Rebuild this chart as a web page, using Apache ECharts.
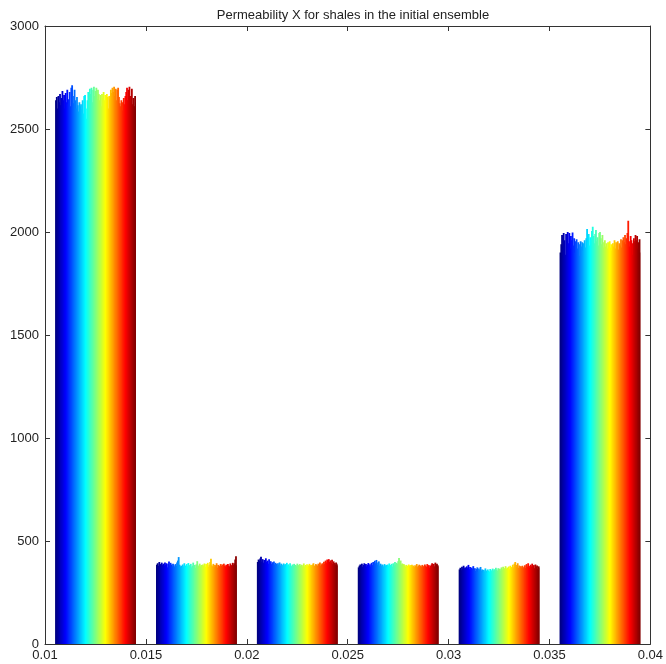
<!DOCTYPE html>
<html>
<head>
<meta charset="utf-8">
<script src="https://cdn.jsdelivr.net/npm/echarts@6/dist/echarts.min.js"></script>
<style>
  html, body { margin: 0; padding: 0; background: #ffffff; }
  #chart { width: 666px; height: 664px; }
</style>
</head>
<body>
<div id="chart"></div>
<script>
// Histogram of shale permeability X, one bar per ensemble member in every bin.
const chartTitle = 'Permeability X for shales in the initial ensemble';

// Bin centres (permeability) and the x tick values shown under the axis
const binCenters = [0.0125, 0.0175, 0.0225, 0.0275, 0.0325, 0.0375];
const xTicks = [0.01, 0.015, 0.02, 0.025, 0.03, 0.035, 0.04];
const yTicks = [0, 500, 1000, 1500, 2000, 2500, 3000];

// Counts per ensemble member (100 members) for each bin
const bin1Counts = [
  2640, 2655, 2600, 2660, 2630, 2670, 2615, 2650, 2685, 2640,
  2665, 2600, 2675, 2630, 2690, 2620, 2645, 2680, 2610, 2700,
  2712, 2660, 2625, 2690, 2640, 2600, 2655, 2615, 2585, 2630,
  2610, 2620, 2595, 2640, 2575, 2660, 2665, 2600, 2550, 2640,
  2680, 2655, 2695, 2670, 2700, 2630, 2690, 2705, 2660, 2685,
  2700, 2645, 2690, 2670, 2640, 2665, 2610, 2670, 2650, 2680,
  2640, 2665, 2625, 2670, 2655, 2600, 2660, 2645, 2690, 2675,
  2700, 2680, 2705, 2660, 2695, 2640, 2690, 2700, 2655, 2625,
  2610, 2640, 2630, 2590, 2650, 2620, 2660, 2680, 2700, 2640,
  2690, 2705, 2660, 2640, 2695, 2620, 2650, 2610, 2660, 2630
];
const bin2Counts = [
  385, 392, 380, 398, 388, 375, 395, 383, 390, 378,
  396, 384, 392, 372, 388, 400, 381, 394, 386, 377,
  390, 382, 375, 388, 379, 396, 405, 422, 385, 374,
  380, 371, 386, 377, 392, 381, 374, 388, 378, 393,
  383, 376, 389, 372, 380, 395, 378, 384, 370, 387,
  402, 381, 375, 390, 377, 384, 372, 386, 379, 391,
  375, 388, 380, 394, 376, 385, 398, 414, 382, 377,
  389, 374, 383, 378, 392, 371, 384, 380, 376, 388,
  379, 386, 373, 390, 381, 377, 385, 372, 388, 380,
  376, 391, 383, 379, 394, 385, 392, 410, 426, 382
];
const bin3Counts = [
  398, 410, 405, 415, 424, 400, 412, 395, 408, 402,
  416, 398, 405, 390, 411, 396, 402, 388, 397, 391,
  400, 386, 394, 389, 380, 392, 384, 396, 381, 390,
  385, 378, 391, 383, 388, 376, 394, 382, 387, 379,
  392, 380, 377, 386, 381, 389, 375, 384, 378, 390,
  383, 376, 388, 379, 385, 374, 382, 391, 377, 384,
  380, 387, 373, 382, 389, 378, 384, 376, 386, 392,
  381, 377, 388, 384, 379, 390, 383, 396, 380, 387,
  392, 384, 399, 388, 405, 396, 410, 402, 412, 398,
  406, 395, 409, 388, 401, 393, 386, 396, 382, 390
];
const bin4Counts = [
  372, 380, 386, 378, 390, 375, 384, 392, 381, 388,
  377, 385, 393, 380, 387, 376, 394, 383, 398, 389,
  404, 392, 408, 385, 396, 401, 381, 390, 378, 386,
  382, 375, 388, 379, 384, 373, 386, 380, 391, 377,
  383, 389, 376, 392, 381, 398, 385, 394, 388, 402,
  418, 396, 405, 386, 391, 379, 388, 382, 376, 384,
  380, 374, 386, 378, 383, 371, 385, 377, 381, 374,
  382, 376, 388, 373, 379, 385, 370, 381, 375, 384,
  378, 372, 386, 380, 374, 388, 376, 383, 371, 379,
  385, 392, 380, 389, 377, 395, 384, 390, 382, 376
];
const bin5Counts = [
  362, 370, 358, 375, 366, 380, 368, 372, 360, 377,
  369, 384, 363, 374, 358, 371, 365, 378, 361, 368,
  355, 364, 372, 351, 366, 359, 374, 356, 362, 348,
  360, 353, 367, 357, 345, 362, 355, 350, 364, 358,
  352, 366, 357, 363, 349, 370, 361, 355, 368, 359,
  365, 357, 372, 362, 375, 360, 368, 378, 364, 371,
  367, 376, 363, 380, 369, 374, 385, 372, 390, 398,
  384, 375, 392, 370, 381, 366, 378, 372, 380, 368,
  374, 382, 369, 388, 376, 392, 379, 371, 385, 377,
  390, 372, 383, 368, 386, 375, 381, 364, 377, 370
];
const bin6Counts = [
  1900, 1940, 1985, 1930, 1995, 1960, 1890, 1990, 1975, 2000,
  1945, 1995, 1920, 1980, 1960, 1998, 1935, 1970, 1900, 1955,
  1965, 1920, 1950, 1940, 1885, 1955, 1930, 1950, 1910, 1945,
  1960, 1925, 1970, 2015, 1950, 1990, 1935, 1975, 1960, 2005,
  2025, 1980, 1945, 1990, 2010, 1955, 1975, 1935, 1995, 2000,
  1970, 1940, 1985, 1925, 1950, 1960, 1930, 1945, 1920, 1950,
  1935, 1955, 1925, 1940, 1910, 1945, 1930, 1960, 1920, 1950,
  1940, 1955, 1915, 1945, 1935, 1965, 1925, 1960, 1975, 1950,
  1985, 1940, 1970, 1995, 2055, 1955, 1930, 1980, 1960, 1945,
  1890, 1970, 1955, 1985, 1960, 1980, 1920, 1950, 1965, 1900
];

const binCounts = [bin1Counts, bin2Counts, bin3Counts, bin4Counts, bin5Counts, bin6Counts];
const memberCount = bin1Counts.length;
const binWidth = 0.005;
const groupWidth = binWidth * 0.8;

// Jet colour map, dark blue -> cyan -> yellow -> dark red
function jet(t) {
  const c = v => Math.round(255 * Math.max(0, Math.min(1, v)));
  const r = c(1.5 - Math.abs(4 * t - 3));
  const g = c(1.5 - Math.abs(4 * t - 2));
  const b = c(1.5 - Math.abs(4 * t - 1));
  return 'rgb(' + r + ',' + g + ',' + b + ')';
}

// [bin centre, count, member index]
const barData = [];
binCounts.forEach((counts, b) => {
  counts.forEach((v, i) => barData.push([binCenters[b], v, i]));
});

const axisColor = '#333';
const labelFont = { color: '#222', fontSize: 13, fontFamily: 'Liberation Sans, Arial, sans-serif' };

const chart = echarts.init(document.getElementById('chart'), null, { renderer: 'canvas' });
chart.setOption({
  animation: false,
  backgroundColor: '#ffffff',
  title: {
    text: chartTitle,
    left: 348,
    textAlign: 'center',
    top: 4,
    textStyle: { color: '#222', fontSize: 13, fontWeight: 'normal', fontFamily: 'Liberation Sans, Arial, sans-serif' }
  },
  grid: { left: 45, right: 14, top: 26, bottom: 20, containLabel: false },
  xAxis: [
    {
      type: 'value', min: xTicks[0], max: xTicks[xTicks.length - 1], interval: binWidth,
      position: 'bottom',
      axisLine: { show: true, onZero: false, lineStyle: { color: axisColor, width: 1 } },
      axisTick: { show: true, inside: true, length: 5, lineStyle: { color: axisColor } },
      axisLabel: Object.assign({ margin: 5, formatter: v => String(+v.toFixed(3)) }, labelFont),
      splitLine: { show: false }
    },
    {
      type: 'value', min: xTicks[0], max: xTicks[xTicks.length - 1], interval: binWidth,
      position: 'top',
      axisLine: { show: true, onZero: false, lineStyle: { color: axisColor, width: 1 } },
      axisTick: { show: true, inside: true, length: 5, lineStyle: { color: axisColor } },
      axisLabel: { show: false },
      splitLine: { show: false }
    }
  ],
  yAxis: [
    {
      type: 'value', min: yTicks[0], max: yTicks[yTicks.length - 1], interval: 500,
      position: 'left',
      axisLine: { show: true, onZero: false, lineStyle: { color: axisColor, width: 1 } },
      axisTick: { show: true, inside: true, length: 5, lineStyle: { color: axisColor } },
      axisLabel: Object.assign({ margin: 6, formatter: v => String(v) }, labelFont),
      splitLine: { show: false }
    },
    {
      type: 'value', min: yTicks[0], max: yTicks[yTicks.length - 1], interval: 500,
      position: 'right',
      axisLine: { show: true, onZero: false, lineStyle: { color: axisColor, width: 1 } },
      axisTick: { show: true, inside: true, length: 5, lineStyle: { color: axisColor } },
      axisLabel: { show: false },
      splitLine: { show: false }
    }
  ],
  series: [{
    type: 'custom',
    xAxisIndex: 0,
    yAxisIndex: 0,
    data: barData,
    encode: { x: 0, y: 1 },
    renderItem: function (params, api) {
      const center = api.value(0);
      const v = api.value(1);
      const i = api.value(2);
      const left = center - groupWidth / 2 + i * groupWidth / memberCount;
      const right = left + groupWidth / memberCount;
      const p0 = api.coord([left, 0]);
      const p1 = api.coord([right, v]);
      // the last member of a group keeps its exact width; the others overlap
      // their right neighbour slightly so no seams show between thin bars
      const extra = i < memberCount - 1 ? 1 : 0;
      return {
        type: 'rect',
        shape: { x: p0[0], y: p1[1], width: p1[0] - p0[0] + extra, height: p0[1] - p1[1] },
        style: { fill: jet(i / (memberCount - 1)) }
      };
    }
  }]
});
</script>
</body>
</html>
